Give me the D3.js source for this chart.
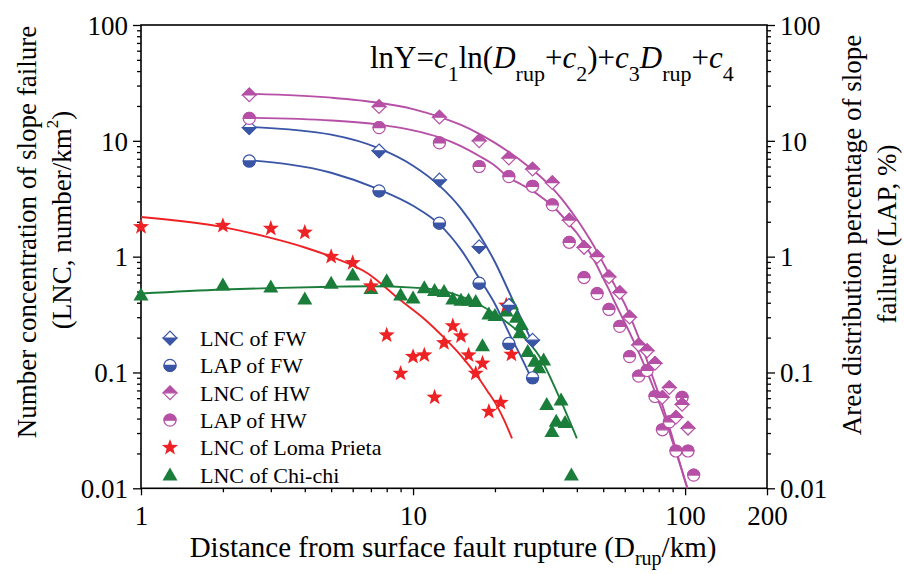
<!DOCTYPE html>
<html>
<head>
<meta charset="utf-8">
<script src="https://cdn.jsdelivr.net/npm/d3@7"></script>
<style>
body { margin: 0; background: #fff; }
svg { font-family: "Liberation Serif", "Times New Roman", serif; }
</style>
</head>
<body>
<svg id="chart" width="904" height="574"></svg>
<script>
// data (distance in km)
var fwDist = [2.5, 7.5, 12.5, 17.5, 22.5, 27.5];
var lncFW = [13, 8.2, 4.6, 1.22, 0.38, 0.19];
var lapFW = [6.7, 3.7, 1.95, 0.59, 0.178, 0.09];

var hwDist = [2.5, 7.5, 12.5, 17.5, 22.5, 27.5, 32.5, 37.5, 42.5, 47.5, 52.5, 57.5,
    62.5, 67.5, 72.5, 77.5, 82.5, 87.5, 92.5, 97.5, 102.5, 107.5];
var lncHW = [24.9, 19.7, 16.0, 10.0, 7.1, 5.7, 4.35, 2.07, 1.2, 1.0, 0.67, 0.49,
    0.30, 0.173, 0.154, 0.12, 0.061, 0.074, 0.041, 0.053, 0.033];
var lapHW = [15.6, 13.0, 9.6, 6.0, 4.9, 4.05, 2.8, 1.33, 0.66, 0.48, 0.35, 0.25,
    0.137, 0.093, 0.104, 0.062, 0.032, 0.0375, 0.021, 0.061, 0.021, 0.013];

var lomaDist = [1, 2, 3, 4, 5, 6, 7, 8, 9, 10, 11, 12, 13, 14, 15, 16, 17, 18, 19, 21, 22, 23];
var lomaLNC = [1.81, 1.85, 1.75, 1.62, 1.0, 0.885, 0.557, 0.21, 0.098, 0.137, 0.141, 0.061,
    0.18, 0.252, 0.206, 0.141, 0.098, 0.12, 0.046, 0.055, 0.38, 0.143];

var chiDist = [1, 2, 3, 4, 5, 6, 7, 8, 9, 10, 11, 12, 13, 14, 15, 16, 17, 18, 19, 20,
    22, 23, 24, 24.7, 25, 26.4, 28, 29, 30.2, 31, 32.4, 33.6, 35, 36.2, 38.2];
var chiLNC = [0.466, 0.569, 0.546, 0.43, 0.588, 0.693, 0.53, 0.62, 0.466, 0.44, 0.54, 0.51,
    0.5, 0.43, 0.42, 0.42, 0.41, 0.17, 0.32, 0.31, 0.34, 0.39, 0.3, 0.22, 0.26, 0.152,
    0.125, 0.11, 0.128, 0.053, 0.031, 0.038, 0.058, 0.037, 0.013];

// fitted curves
var fitFWDist = [2.5, 5, 7.5, 10, 12.5, 15, 17.5, 20, 22.5, 25, 27.5];
var fitLncFW = [13.2, 11.3, 8.6, 6.1, 4.1, 2.6, 1.55, 0.9, 0.5, 0.29, 0.18];
var fitLapFW = [6.8, 5.3, 3.8, 2.75, 1.9, 1.15, 0.65, 0.39, 0.22, 0.135, 0.085];

var fitHWDist = [2.5, 5, 7.5, 10, 12.5, 15, 17.5, 20, 22.5, 25, 27.5, 30, 32.5, 35, 37.5,
    40, 42.5, 45, 47.5, 50, 52.5, 55, 57.5, 60, 65, 70, 75, 80, 85, 90, 95, 100, 102];
var fitLncHW = [25.5, 23.6, 21.3, 18.8, 16.1, 13.7, 11.5, 9.6, 8.0, 6.7, 5.6, 4.7, 3.9,
    3.2, 2.6, 2.1, 1.7, 1.37, 1.1, 0.88, 0.71, 0.57, 0.47, 0.39, 0.25, 0.16, 0.1,
    0.065, 0.042, 0.027, 0.0175, 0.0115, 0.01];
var fitLapHW = [15.8, 15.0, 13.8, 12.3, 10.7, 9.0, 7.4, 6.1, 4.8, 4.2, 3.7, 3.2, 2.75,
    2.3, 1.9, 1.6, 1.3, 1.05, 0.83, 0.65, 0.52, 0.41, 0.33, 0.27, 0.182, 0.123, 0.083,
    0.056, 0.038, 0.025, 0.017, 0.0117, 0.01];

var fitLomaDist = [1, 2, 2.9, 4, 5, 6.8, 9, 11, 13, 15, 17, 18.7, 20.3, 21.7, 23.1];
var fitLoma = [2.2, 1.8, 1.48, 1.2, 1.0, 0.72, 0.42, 0.29, 0.2, 0.14, 0.097, 0.07, 0.052, 0.038, 0.027];

var fitChiDist = [1, 2, 3, 5, 7, 10, 12, 14, 17, 20, 24.7, 29.2, 34.6, 40];
var fitChi = [0.48, 0.52, 0.535, 0.55, 0.555, 0.54, 0.52, 0.48, 0.4, 0.32, 0.218, 0.137, 0.06, 0.027];

var xMajor = [1, 10, 100, 200];
var yMajor = [0.01, 0.1, 1, 10, 100];
var legendNames = ["LNC of FW", "LAP of FW", "LNC of HW", "LAP of HW", "LNC of Loma Prieta", "LNC of Chi-chi"];

var blue = "#3a55a6", pink = "#b650a6", red = "#ee2225", green = "#1a7d3a";

var svg = d3.select("#chart");
var pLeft = 141, pRight = 767, pTop = 25, pBottom = 488.3;

var x = d3.scaleLog().domain([1, 200]).range([pLeft, pRight]);
var y = d3.scaleLog().domain([0.01, 100]).range([pBottom, pTop]);

// minor ticks
var xMinor = [];
[1, 10].forEach(function(b) { for (var k = 2; k <= 9; k++) xMinor.push(k * b); });
var yMinor = [];
[0.01, 0.1, 1, 10].forEach(function(b) { for (var k = 2; k <= 9; k++) yMinor.push(k * b); });

function fmt(d) { return d >= 1 ? String(d) : String(+d.toPrecision(1)); }

var gx = svg.append("g").attr("transform", "translate(0," + pBottom + ")");
gx.call(d3.axisBottom(x).tickValues(xMajor).tickSize(7).tickPadding(6).tickFormat(fmt));
gx.append("g").call(d3.axisBottom(x).tickValues(xMinor).tickSize(4).tickFormat(""));

var gy = svg.append("g").attr("transform", "translate(" + pLeft + ",0)");
gy.call(d3.axisLeft(y).tickValues(yMajor).tickSize(8).tickPadding(5).tickFormat(fmt));
gy.append("g").call(d3.axisLeft(y).tickValues(yMinor).tickSize(4).tickFormat(""));

var gy2 = svg.append("g").attr("transform", "translate(" + pRight + ",0)");
gy2.call(d3.axisRight(y).tickValues(yMajor).tickSize(8).tickPadding(5).tickFormat(fmt));
gy2.append("g").call(d3.axisRight(y).tickValues(yMinor).tickSize(4).tickFormat(""));

svg.selectAll(".domain").remove();
svg.selectAll(".tick line").attr("stroke", "#000").attr("stroke-width", 1.3);
svg.selectAll(".tick text").attr("font-family", "Liberation Serif").attr("font-size", 27).attr("fill", "#000");
gx.selectAll(".tick text").attr("dy", "0.86em");
gy.selectAll(".tick text").attr("dy", "0.34em");
gy2.selectAll(".tick text").attr("dy", "0.34em");

svg.append("rect").attr("x", pLeft).attr("y", pTop)
    .attr("width", pRight - pLeft).attr("height", pBottom - pTop)
    .attr("fill", "none").attr("stroke", "#000").attr("stroke-width", 1.6);

// fitted lines
var line = d3.line().x(function(d) { return x(d[0]); }).y(function(d) { return y(d[1]); })
    .curve(d3.curveMonotoneX);
function drawFit(ds, vs, color) {
    svg.append("path").datum(d3.zip(ds, vs)).attr("d", line)
        .attr("fill", "none").attr("stroke", color).attr("stroke-width", 1.9);
}
drawFit(fitFWDist, fitLncFW, blue);
drawFit(fitFWDist, fitLapFW, blue);
drawFit(fitHWDist, fitLncHW, pink);
drawFit(fitHWDist, fitLapHW, pink);
drawFit(fitLomaDist, fitLoma, red);
drawFit(fitChiDist, fitChi, green);

// marker shapes
var R = 6.8, C = 6;
var shapes = {
    diamond: "M0," + (-R) + "L" + R + ",0L0," + R + "L" + (-R) + ",0Z",
    diamondTop: "M" + (-R) + ",0L0," + (-R) + "L" + R + ",0Z",
    diamondBottom: "M" + (-R) + ",0L0," + R + "L" + R + ",0Z",
    circleTop: "M" + (-C) + ",0A" + C + "," + C + " 0 0 1 " + C + ",0Z",
    circleBottom: "M" + (-C) + ",0A" + C + "," + C + " 0 0 0 " + C + ",0Z",
    triangle: "M0,-7.5L7.5,5.5L-7.5,5.5Z"
};
function starPath(ro, ri) {
    var p = [];
    for (var i = 0; i < 10; i++) {
        var a = -Math.PI / 2 + i * Math.PI / 5, r = i % 2 ? ri : ro;
        p.push((r * Math.cos(a)).toFixed(2) + "," + (r * Math.sin(a)).toFixed(2));
    }
    return "M" + p.join("L") + "Z";
}
shapes.star = starPath(8.5, 3.5);

function drawMarker(g, kind, color) {
    if (kind == "diamondB" || kind == "diamondT") {
        g.append("path").attr("d", shapes.diamond).attr("fill", "#fff").attr("stroke", color).attr("stroke-width", 1.2);
        g.append("path").attr("d", kind == "diamondB" ? shapes.diamondBottom : shapes.diamondTop).attr("fill", color).attr("stroke", color).attr("stroke-width", 1.2);
    } else if (kind == "circleB" || kind == "circleT") {
        g.append("circle").attr("r", C).attr("fill", "#fff").attr("stroke", color).attr("stroke-width", 1.2);
        g.append("path").attr("d", kind == "circleB" ? shapes.circleBottom : shapes.circleTop).attr("fill", color).attr("stroke", color).attr("stroke-width", 1.2);
    } else if (kind == "star") {
        g.append("path").attr("d", shapes.star).attr("fill", color);
    } else {
        g.append("path").attr("d", shapes.triangle).attr("fill", color);
    }
}
function drawPoints(ds, vs, kind, color) {
    var pts = svg.append("g").selectAll("g").data(d3.zip(ds, vs)).enter().append("g")
        .attr("transform", function(d) { return "translate(" + x(d[0]) + "," + y(d[1]) + ")"; });
    pts.each(function() { drawMarker(d3.select(this), kind, color); });
}
drawPoints(chiDist, chiLNC, "triangle", green);
drawPoints(lomaDist, lomaLNC, "star", red);
drawPoints(fwDist, lapFW, "circleB", blue);
drawPoints(fwDist, lncFW, "diamondB", blue);
drawPoints(hwDist, lapHW, "circleT", pink);
drawPoints(hwDist, lncHW, "diamondT", pink);

// legend
var legKinds = [["diamondB", blue], ["circleB", blue], ["diamondT", pink], ["circleT", pink], ["star", red], ["triangle", green]];
var leg = svg.append("g").selectAll("g").data(legendNames).enter().append("g")
    .attr("transform", function(d, i) { return "translate(170," + (338 + i * 27.4) + ")"; });
leg.each(function(d, i) { drawMarker(d3.select(this), legKinds[i][0], legKinds[i][1]); });
leg.append("text").attr("x", 30).attr("dy", "0.35em").attr("font-size", 22).text(function(d) { return d; });

// equation
var eq = svg.append("text").attr("x", 370).attr("y", 68).attr("font-size", 31);
var parts = [["lnY=", 0], ["c", 1], ["1", 2], ["ln(", 0], ["D", 1], ["rup", 2], ["+", 0], ["c", 1], ["2", 2],
    [")+", 0], ["c", 1], ["3", 2], ["D", 1], ["rup", 2], ["+", 0], ["c", 1], ["4", 2]];
var shift = 0;
parts.forEach(function(p) {
    var t = eq.append("tspan").text(p[0]);
    var want = p[1] == 2 ? 13 : 0;
    t.attr("dy", want - shift);
    shift = want;
    if (p[1] == 1) t.attr("font-style", "italic");
    if (p[1] == 2) t.attr("font-size", 22);
});

// axis titles
var xt = svg.append("text").attr("x", 453).attr("y", 557)
    .attr("text-anchor", "middle").attr("font-size", 29);
xt.append("tspan").text("Distance from surface fault rupture (D");
xt.append("tspan").attr("dy", 8).attr("font-size", 20).text("rup");
xt.append("tspan").attr("dy", -8).text("/km)");

svg.append("text").attr("transform", "translate(27,232) rotate(-90)")
    .attr("text-anchor", "middle").attr("dominant-baseline", "central").attr("font-size", 27)
    .text("Number concentration of slope failure");
var yt2 = svg.append("text").attr("transform", "translate(62,220) rotate(-90)")
    .attr("text-anchor", "middle").attr("dominant-baseline", "central").attr("font-size", 27);
yt2.append("tspan").text("(LNC, number/km");
yt2.append("tspan").attr("dy", -10).attr("font-size", 17).text("2");
yt2.append("tspan").attr("dy", 10).text(")");

svg.append("text").attr("transform", "translate(852,235) rotate(-90)")
    .attr("text-anchor", "middle").attr("dominant-baseline", "central").attr("font-size", 27)
    .text("Area distribution percentage of slope");
svg.append("text").attr("transform", "translate(887,234) rotate(-90)")
    .attr("text-anchor", "middle").attr("dominant-baseline", "central").attr("font-size", 27)
    .text("failure (LAP, %)");
</script>
</body>
</html>
